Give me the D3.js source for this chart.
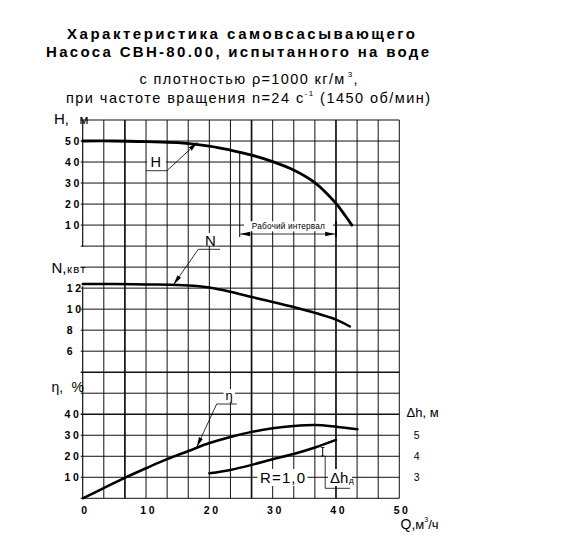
<!DOCTYPE html>
<html><head><meta charset="utf-8">
<script src="https://cdn.jsdelivr.net/npm/d3@7"></script>
<style>
body{margin:0;background:#fff}
svg{display:block}
text{font-family:"Liberation Sans",Arial,sans-serif;fill:#000}
</style>
</head><body>
<svg id="c" width="570" height="552"></svg>
<script>
// ---------- data ----------
const titleLines = ["Характеристика самовсасывающего", "Насоса СВН-80.00, испытанного на воде"];
const qTicks = [0, 10, 20, 30, 40, 50];
const hTicks = [10, 20, 30, 40, 50];
const nTicks = [6, 8, 10, 12];
const etaTicks = [10, 20, 30, 40];
const dhTicks = [3, 4, 5];

const hQ   = [0, 5, 10, 15, 20, 23.3, 26.7, 30, 33.3, 36.7, 40, 41.5, 42.5];
const hVal = [50, 50, 49.7, 49.2, 47.6, 45.7, 43.3, 40.2, 36.2, 30.1, 20.3, 14.3, 10];

const nQ   = [0, 5, 10, 15, 18, 20, 23.3, 26.7, 30, 33.3, 36.7, 40, 42.2];
const nVal = [12.4, 12.4, 12.35, 12.3, 12.2, 12.05, 11.65, 11.15, 10.68, 10.2, 9.65, 9.0, 8.35];

const etaQ   = [0, 3.3, 6.7, 10, 13.3, 16.7, 20, 23.3, 26.7, 30, 33.3, 36.7, 40, 43.4];
const etaVal = [0, 4.8, 9.8, 14.3, 18.6, 22.5, 26.3, 29.2, 31.6, 33.3, 34.4, 34.9, 34.1, 32.9];

const dhQ   = [20, 23.3, 26.7, 30, 33.3, 36.7, 40];
const dhVal = [3.19, 3.35, 3.59, 3.86, 4.11, 4.42, 4.78];

const workQ = [24.8, 40];

// ---------- scales ----------
const svg = d3.select("#c");
const x = d3.scaleLinear().domain([0, 50]).range([82.7, 399.3]);
const row = d3.scaleLinear().domain([0, 18]).range([120, 498.3]);
const yH = d3.scaleLinear().domain([0, 60]).range([row(6), row(0)]);
const yN = d3.scaleLinear().domain([4, 16]).range([row(12), row(6)]);
const yE = d3.scaleLinear().domain([0, 50]).range([row(18), row(13)]);
const yD = d3.scaleLinear().domain([2, 7]).range([row(18), row(13)]);

// markers
const defs = svg.append("defs");
defs.append("marker").attr("id", "arr").attr("viewBox", "0 0 10 6")
  .attr("refX", 10).attr("refY", 3).attr("markerWidth", 10).attr("markerHeight", 6)
  .attr("markerUnits", "userSpaceOnUse").attr("orient", "auto-start-reverse")
  .append("path").attr("d", "M0,0.8L10,3L0,5.2Z").attr("fill", "#000");

// ---------- title ----------
svg.append("text").attr("x", 67).attr("y", 39.3).attr("font-size", 15).attr("font-weight", "bold")
  .attr("textLength", 348).attr("lengthAdjust", "spacing").text(titleLines[0]);
svg.append("text").attr("x", 46).attr("y", 56.7).attr("font-size", 15).attr("font-weight", "bold")
  .attr("textLength", 383).attr("lengthAdjust", "spacing").text(titleLines[1]);

const t3 = svg.append("text").attr("x", 139.5).attr("y", 84).attr("font-size", 14.5)
  .attr("textLength", 218).attr("lengthAdjust", "spacing");
t3.append("tspan").text("с плотностью ρ=1000 кг/м");
t3.append("tspan").attr("font-size", 8).attr("dy", -7).attr("dx", 2).text("3");
t3.append("tspan").attr("dy", 7).text(",");

const t4 = svg.append("text").attr("x", 66).attr("y", 103.3).attr("font-size", 14.5)
  .attr("textLength", 364).attr("lengthAdjust", "spacing");
t4.append("tspan").text("при частоте вращения n=24 с");
t4.append("tspan").attr("font-size", 8).attr("dy", -7).text("-1");
t4.append("tspan").attr("dy", 7).text(" (1450 об/мин)");

// ---------- grid ----------
const g = svg.append("g");
const vLines = d3.range(16).map(i => i * 10 / 3);
const thickV = [2, 8, 12];
vLines.forEach((q, i) => {
  const w = thickV.includes(i) ? 1.7 : 1;
  if (i === 0) {
    [[row(0), row(6) + 1], [row(8) - 2, row(18)]].forEach(s =>
      g.append("line").attr("x1", x(q)).attr("x2", x(q)).attr("y1", s[0]).attr("y2", s[1])
        .attr("stroke", "#111").attr("stroke-width", 1.2));
  } else {
    g.append("line").attr("x1", x(q)).attr("x2", x(q)).attr("y1", row(0)).attr("y2", row(18))
      .attr("stroke", "#111").attr("stroke-width", w);
  }
});
const thickH = [12, 14];
d3.range(19).forEach(j => {
  g.append("line").attr("x1", x(0) - 2).attr("x2", x(50)).attr("y1", row(j)).attr("y2", row(j))
    .attr("stroke", "#111").attr("stroke-width", thickH.includes(j) ? 1.6 : 1);
});

// ---------- axis labels ----------
const tickFont = {size: 10.5, ls: 2.6};
function tickLabels(ticks, scale, x0) {
  svg.append("g").selectAll("text").data(ticks).join("text")
    .attr("x", x0).attr("y", d => scale(d)).attr("dy", "0.36em")
    .attr("font-size", tickFont.size).attr("font-weight", "bold")
    .attr("letter-spacing", tickFont.ls).text(d => d);
}
tickLabels(hTicks, yH, 65);
tickLabels(nTicks, yN, 66.7);
tickLabels(etaTicks, yE, 64.5);

svg.append("g").selectAll("text").data(qTicks).join("text")
  .attr("x", d => x(d) + 2.8).attr("y", 513.8).attr("text-anchor", "middle")
  .attr("font-size", tickFont.size).attr("font-weight", "bold")
  .attr("letter-spacing", tickFont.ls).text(d => d);

svg.append("g").selectAll("text").data(dhTicks).join("text")
  .attr("x", 416.7).attr("y", d => yD(d)).attr("dy", "0.36em").attr("text-anchor", "middle")
  .attr("font-size", 10.5).text(d => d);

svg.append("text").attr("x", 54).attr("y", 123.5).attr("font-size", 15).text("H,");
svg.append("text").attr("x", 79.5).attr("y", 123.5).attr("font-size", 13).text("м");
svg.append("text").attr("x", 51.5).attr("y", 272.5).attr("font-size", 15).text("N,");
svg.append("text").attr("x", 67).attr("y", 272.5).attr("font-size", 11.5).attr("letter-spacing", 1.2).text("квт");
svg.append("text").attr("x", 51.5).attr("y", 392).attr("font-size", 14).text("η,");
svg.append("text").attr("x", 71.5).attr("y", 392).attr("font-size", 14).text("%");
svg.append("text").attr("x", 406.5).attr("y", 416.7).attr("font-size", 13).text("Δh, м");

const ql = svg.append("text").attr("x", 400.5).attr("y", 529).attr("font-size", 14);
ql.append("tspan").text("Q,");
ql.append("tspan").attr("font-size", 13).text("м");
ql.append("tspan").attr("font-size", 7).attr("dy", -7).text("3");
ql.append("tspan").attr("font-size", 13).attr("dy", 7).text("/ч");

// ---------- curves ----------
function curve(qs, vs, ys, w) {
  const pts = qs.map((q, i) => [q, vs[i]]);
  svg.append("path").datum(pts)
    .attr("d", d3.line().x(d => x(d[0])).y(d => ys(d[1])).curve(d3.curveCatmullRom.alpha(0.5)))
    .attr("fill", "none").attr("stroke", "#000").attr("stroke-width", w)
    .attr("stroke-linecap", "round");
}
curve(hQ, hVal, yH, 2.8);
curve(nQ, nVal, yN, 2.5);
curve(etaQ, etaVal, yE, 2.5);
curve(dhQ, dhVal, yD, 2.5);

// ---------- annotations ----------
const a = svg.append("g");
function ln(x1, y1, x2, y2, w, arrow) {
  const l = a.append("line").attr("x1", x1).attr("y1", y1).attr("x2", x2).attr("y2", y2)
    .attr("stroke", "#000").attr("stroke-width", w || 0.8);
  if (arrow === "end" || arrow === "both") l.attr("marker-end", "url(#arr)");
  if (arrow === "both") l.attr("marker-start", "url(#arr)");
  return l;
}
function box(x0, y0, w, h) {
  a.append("rect").attr("x", x0).attr("y", y0).attr("width", w).attr("height", h).attr("fill", "#fff");
}
function hInterp(q) {
  const i = d3.bisectRight(hQ, q) - 1;
  const t = (q - hQ[i]) / (hQ[i + 1] - hQ[i]);
  return hVal[i] + t * (hVal[i + 1] - hVal[i]);
}

// H label
box(147.2, 152, 18.8, 16.5);
a.append("text").attr("x", 155.7).attr("y", 166.7).attr("text-anchor", "middle").attr("font-size", 14.5).text("H");
ln(x(10), 170.7, 167, 170.7);
ln(167, 170.7, 197.5, 142.3, 0.8, "end");

// working interval
ln(x(workQ[0]), yH(hInterp(workQ[0])), x(workQ[0]), 237, 1);
ln(x(workQ[1]), 221, x(workQ[1]), 237, 1.7);
box(244, 221.3, 89, 10);
a.append("text").attr("x", (x(workQ[0]) + x(workQ[1])) / 2 + 0.5).attr("y", 229.3)
  .attr("text-anchor", "middle").attr("font-size", 8.3).attr("textLength", 73).attr("lengthAdjust", "spacing")
  .text("Рабочий интервал");
ln(x(workQ[0]) + 0.5, 234, x(workQ[1]) - 0.8, 234, 0.8, "both");

// N label
box(203.5, 233, 13.5, 12.5);
a.append("text").attr("x", 210.3).attr("y", 245.5).attr("text-anchor", "middle").attr("font-size", 15).text("N");
ln(198.3, 249.3, 220, 249.3);
ln(198.3, 249.3, 173.5, 284.7, 0.8, "end");

// eta label
box(223.5, 389, 11.5, 13);
a.append("text").attr("x", 229).attr("y", 399.5).attr("text-anchor", "middle").attr("font-size", 13).text("η");
ln(216.7, 404, 236.7, 404);
ln(216.7, 404, 196.8, 447, 0.8, "end");

// R = 1,0
box(257.5, 469, 50, 17);
a.append("text").attr("x", 260).attr("y", 483.3).attr("font-size", 15)
  .attr("textLength", 45).attr("lengthAdjust", "spacing").text("R=1,0");

// Δh_д label
box(328, 469, 24, 17);
const dl = a.append("text").attr("x", 330).attr("y", 483.3).attr("font-size", 15);
dl.append("tspan").text("Δh");
dl.append("tspan").attr("font-size", 8).attr("dy", 0).attr("dx", 0.5).text("д");
ln(322.7, 447.5, 322.7, 456, 1);
ln(320.8, 447.5, 324.6, 447.5, 0.8);
ln(320.8, 456, 324.6, 456, 0.8);
ln(325.2, 456, 325.2, 488.3);
ln(325.2, 488.3, 350, 488.3);
</script>
</body></html>
